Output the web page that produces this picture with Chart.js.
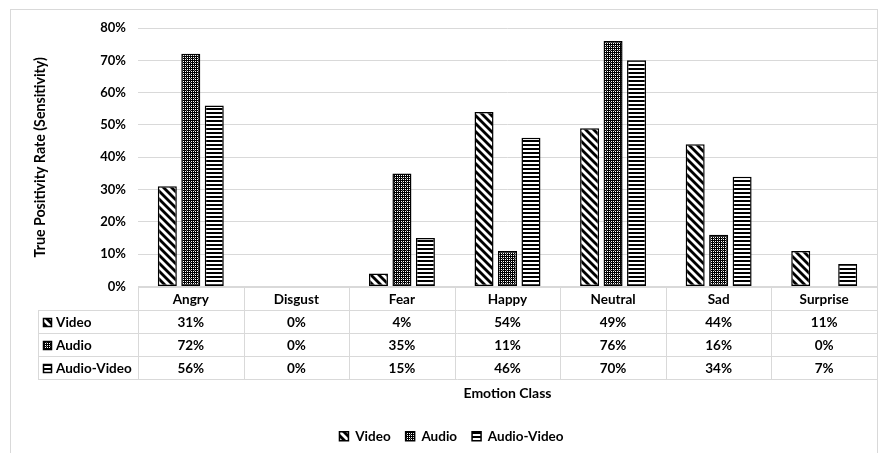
<!DOCTYPE html>
<html>
<head>
<meta charset="utf-8">
<script src="https://cdn.jsdelivr.net/npm/chart.js@4.4.1/dist/chart.umd.min.js"></script>
<style>
  html, body { margin: 0; padding: 0; background: #fff; }
  #wrap { width: 880px; height: 453px; }
</style>
</head>
<body>
<div id="wrap"><canvas id="c" width="880" height="453"></canvas></div>
<script>
// Sensitivity per emotion class, in percent
const categories = ['Angry', 'Disgust', 'Fear', 'Happy', 'Neutral', 'Sad', 'Surprise'];
const videoRates = [31, 0, 4, 54, 49, 44, 11];
const audioRates = [72, 0, 35, 11, 76, 16, 0];
const audioVideoRates = [56, 0, 15, 46, 70, 34, 7];
const seriesNames = ['Video', 'Audio', 'Audio-Video'];
const yTickValues = [0, 10, 20, 30, 40, 50, 60, 70, 80];

const FONT = 'Lato, "Open Sans", sans-serif';
const GRID = '#d9d9d9';
const INK = '#000000';

// ---- fill patterns ----
function makeTile(size, paint) {
  const cv = document.createElement('canvas');
  cv.width = size; cv.height = size;
  const g = cv.getContext('2d');
  g.fillStyle = '#fff';
  g.fillRect(0, 0, size, size);
  paint(g, size);
  return cv;
}
const tmp = document.createElement('canvas').getContext('2d');

// wide downward diagonal stripes
const diagTile = makeTile(8, (g, s) => {
  g.strokeStyle = '#000';
  g.lineWidth = 2.8;
  for (const k of [-s, 0, s]) {
    g.beginPath();
    g.moveTo(k - 1, -1);
    g.lineTo(k + s + 1, s + 1);
    g.stroke();
  }
});
// dark dotted grid
const dotTile = makeTile(4, (g, s) => {
  g.fillStyle = '#000';
  g.fillRect(0, 0, s, s);
  g.fillStyle = '#ffffff';
  g.fillRect(1, 1, 1, 1);
  g.fillRect(3, 3, 1, 1);
  g.fillRect(3, 1, 1, 1);
  g.fillRect(1, 3, 1, 1);
  g.fillStyle = '#666';
  g.fillRect(2, 2, 1, 1);
});
// horizontal stripes
const hTile = makeTile(4, (g, s) => {
  g.fillStyle = '#000';
  g.fillRect(0, 0, s, 2);
});

const patterns = [
  tmp.createPattern(diagTile, 'repeat'),
  tmp.createPattern(dotTile, 'repeat'),
  tmp.createPattern(hTile, 'repeat')
];
const seriesValues = [videoRates, audioRates, audioVideoRates];

// ---- chart frame and data table under the plot ----
const frameAndTable = {
  id: 'frameAndTable',
  beforeDraw(chart) {
    const ctx = chart.ctx;
    ctx.save();
    ctx.fillStyle = '#fff';
    ctx.fillRect(0, 0, chart.width, chart.height);
    ctx.strokeStyle = GRID;
    ctx.lineWidth = 1;
    ctx.strokeRect(10.5, 9.5, 867, 460);
    ctx.restore();
  },
  afterDatasetsDraw(chart) {
    const ctx = chart.ctx;
    const area = chart.chartArea;
    const x = chart.scales.x;
    const left = area.left, right = area.right;
    const top = Math.round(area.bottom);
    const rowH = 23;
    const labelLeft = 38;
    const n = categories.length;
    const colW = (right - left) / n;

    ctx.save();
    ctx.strokeStyle = GRID;
    ctx.lineWidth = 1;
    ctx.beginPath();
    // horizontal rules
    ctx.moveTo(left, top + 0.5); ctx.lineTo(right, top + 0.5);
    for (let r = 1; r <= 4; r++) {
      const yy = top + r * rowH + 0.5;
      ctx.moveTo(labelLeft, yy); ctx.lineTo(right, yy);
    }
    // vertical rules
    for (let i = 0; i <= n; i++) {
      const xx = Math.round(left + i * colW) + 0.5;
      ctx.moveTo(xx, top); ctx.lineTo(xx, top + 4 * rowH);
    }
    ctx.moveTo(labelLeft + 0.5, top + rowH); ctx.lineTo(labelLeft + 0.5, top + 4 * rowH);
    ctx.stroke();

    ctx.fillStyle = INK;
    ctx.font = 'bold 13.5px ' + FONT;
    ctx.textAlign = 'center';
    ctx.textBaseline = 'middle';
    categories.forEach((c, i) => {
      ctx.fillText(c, x.getPixelForValue(i), top + rowH / 2 + 1);
    });
    seriesValues.forEach((vals, s) => {
      const cy = top + (s + 1) * rowH + rowH / 2 + 1;
      vals.forEach((v, i) => {
        ctx.fillText(v + '%', x.getPixelForValue(i), cy);
      });
      // legend key + series name
      const bx = 43, by = Math.round(cy - 5);
      ctx.fillStyle = patterns[s];
      ctx.fillRect(bx, by, 9, 9);
      ctx.strokeStyle = '#000';
      ctx.lineWidth = 1.5;
      ctx.strokeRect(bx + 0.5, by + 0.5, 8, 8);
      ctx.fillStyle = INK;
      ctx.textAlign = 'left';
      ctx.fillText(seriesNames[s], 56, cy);
      ctx.textAlign = 'center';
    });
    ctx.restore();
  }
};

const datasets = seriesNames.map((name, s) => ({
  label: name,
  data: seriesValues[s],
  backgroundColor: patterns[s],
  borderColor: '#000',
  borderWidth: 1.5,
  borderSkipped: false,
  categoryPercentage: 0.667,
  barPercentage: 0.81
}));

new Chart(document.getElementById('c'), {
  type: 'bar',
  data: { labels: categories, datasets },
  plugins: [frameAndTable],
  options: {
    responsive: false,
    animation: false,
    devicePixelRatio: 1,
    layout: { padding: { top: 28, right: 3, left: 26, bottom: 0 } },
    plugins: {
      tooltip: { enabled: false },
      legend: {
        position: 'bottom',
        labels: {
          boxWidth: 9,
          boxHeight: 9,
          padding: 15,
          color: INK,
          font: { family: FONT, size: 13.5, weight: 'bold' }
        }
      }
    },
    scales: {
      x: {
        ticks: { display: false },
        grid: { display: false },
        border: { display: false },
        title: {
          display: true,
          text: 'Emotion Class',
          color: INK,
          font: { family: FONT, size: 14, weight: 'bold' },
          padding: { top: 0, bottom: 13 }
        },
        afterFit(scale) { scale.height = 128; }
      },
      y: {
        min: 0,
        max: 80,
        afterBuildTicks(scale) { scale.ticks = yTickValues.map(v => ({ value: v })); },
        ticks: {
          callback: v => v + '%',
          color: INK,
          padding: 12,
          font: { family: FONT, size: 13, weight: 'bold' }
        },
        grid: { color: GRID, lineWidth: 1, drawTicks: false },
        border: { display: false },
        title: {
          display: true,
          text: 'True Positivity Rate (Sensitivity)',
          color: INK,
          font: { family: FONT, size: 14.2, weight: 'bold' },
          padding: { top: 5.5, bottom: 0 }
        },
        afterFit(scale) { scale.width = 112; }
      }
    }
  }
});
</script>
</body>
</html>
